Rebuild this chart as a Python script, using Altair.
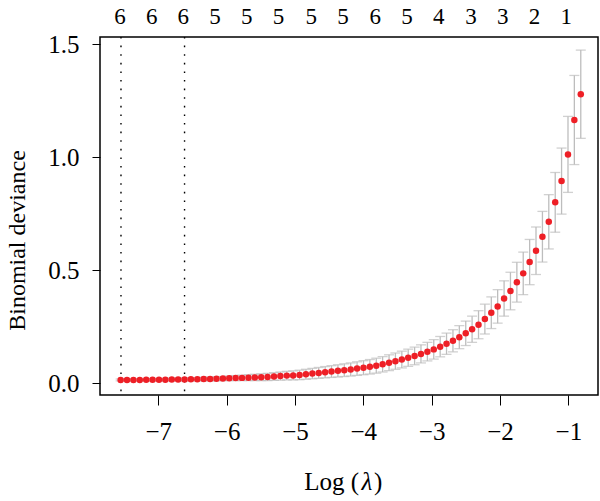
import altair as alt
import pandas as pd

# log(lambda) grid of the cross-validated fit
log_lambda = [
    -7.550, -7.457, -7.363, -7.270, -7.176, -7.083, -6.989, -6.896, -6.802, -6.709,
    -6.615, -6.522, -6.428, -6.335, -6.241, -6.148, -6.054, -5.961, -5.867, -5.774,
    -5.680, -5.587, -5.493, -5.400, -5.306, -5.213, -5.119, -5.026, -4.932, -4.839,
    -4.745, -4.652, -4.558, -4.465, -4.371, -4.278, -4.184, -4.091, -3.997, -3.904,
    -3.810, -3.717, -3.623, -3.530, -3.436, -3.343, -3.249, -3.156, -3.062, -2.969,
    -2.875, -2.782, -2.688, -2.595, -2.501, -2.408, -2.314, -2.221, -2.127, -2.034,
    -1.940, -1.847, -1.753, -1.660, -1.566, -1.473, -1.379, -1.286, -1.192, -1.099,
    -1.005, -0.912, -0.818,
]

# mean cross-validated binomial deviance
deviance = [
    0.015, 0.015, 0.015, 0.015, 0.016, 0.016, 0.016, 0.016, 0.017, 0.017,
    0.017, 0.018, 0.018, 0.019, 0.019, 0.020, 0.021, 0.022, 0.023, 0.024,
    0.025, 0.026, 0.027, 0.028, 0.030, 0.032, 0.034, 0.035, 0.037, 0.040,
    0.043, 0.046, 0.049, 0.052, 0.055, 0.058, 0.061, 0.065, 0.069, 0.073,
    0.078, 0.084, 0.091, 0.098, 0.105, 0.113, 0.121, 0.130, 0.140, 0.150,
    0.162, 0.175, 0.188, 0.204, 0.221, 0.239, 0.259, 0.284, 0.312, 0.340,
    0.375, 0.408, 0.447, 0.486, 0.536, 0.586, 0.648, 0.714, 0.800, 0.894,
    1.012, 1.164, 1.278,
]

# standard error of the deviance
deviance_se = [
    0.004, 0.004, 0.004, 0.004, 0.005, 0.005, 0.005, 0.005, 0.006, 0.006,
    0.006, 0.007, 0.007, 0.008, 0.008, 0.009, 0.009, 0.010, 0.011, 0.012,
    0.013, 0.014, 0.015, 0.016, 0.017, 0.018, 0.019, 0.020, 0.021, 0.022,
    0.023, 0.024, 0.025, 0.026, 0.027, 0.028, 0.029, 0.030, 0.031, 0.032,
    0.033, 0.034, 0.035, 0.036, 0.037, 0.038, 0.039, 0.040, 0.041, 0.043,
    0.045, 0.047, 0.049, 0.051, 0.054, 0.058, 0.062, 0.066, 0.070, 0.074,
    0.078, 0.083, 0.088, 0.094, 0.100, 0.105, 0.112, 0.120, 0.132, 0.146,
    0.168, 0.197, 0.195,
]

# number of nonzero coefficients, shown along the top
nz_at = [-7.56, -7.095, -6.635, -6.17, -5.705, -5.24, -4.76, -4.295,
         -3.825, -3.36, -2.895, -2.425, -1.96, -1.495, -1.03]
nz_count = ["6", "6", "6", "5", "5", "5", "5", "5", "6", "5", "4", "3", "3", "2", "1"]

# lambda.min and lambda.1se
ref_lines = [-7.545, -6.615]

x_ticks = [-7, -6, -5, -4, -3, -2, -1]
y_ticks = [0.0, 0.5, 1.0, 1.5]

FONT = "Liberation Serif"

df = pd.DataFrame({
    "log_lambda": log_lambda,
    "dev": deviance,
    "lo": [d - s for d, s in zip(deviance, deviance_se)],
    "hi": [d + s for d, s in zip(deviance, deviance_se)],
})
nz_df = pd.DataFrame({"x": nz_at, "label": nz_count})
ref_df = pd.DataFrame({"x": ref_lines})

x_scale = alt.Scale(domain=[-7.852, -0.566], nice=False, zero=False)
y_scale = alt.Scale(domain=[-0.0517, 1.531], nice=False, zero=False)

axis_style = dict(
    grid=False, domain=False, tickColor="black", tickWidth=1,
    labelFont=FONT, titleFont=FONT, labelFontSize=25, titleFontSize=24,
    labelColor="black", titleColor="black", titleFontWeight="normal",
    titleBaseline="middle",
)

x_enc = alt.X(
    "log_lambda:Q", scale=x_scale,
    axis=alt.Axis(values=x_ticks, format="d", title=None, tickSize=10,
                  labelPadding=14, **axis_style),
)
y_enc = alt.Y(
    "dev:Q", scale=y_scale,
    axis=alt.Axis(values=y_ticks, format=".1f", title="Binomial deviance", tickSize=8,
                  labelPadding=13, titleX=-83, titleY=203, **axis_style),
)

base = alt.Chart(df)
grey = "#bdbdbd"

bars = base.mark_rule(color=grey, strokeWidth=1.3).encode(
    x=x_enc, y=alt.Y("lo:Q", scale=y_scale), y2="hi:Q"
)
cap_hi = base.mark_tick(color=grey, thickness=1.3, size=10, orient="horizontal").encode(
    x=alt.X("log_lambda:Q", scale=x_scale), y=alt.Y("hi:Q", scale=y_scale)
)
cap_lo = base.mark_tick(color=grey, thickness=1.3, size=10, orient="horizontal").encode(
    x=alt.X("log_lambda:Q", scale=x_scale), y=alt.Y("lo:Q", scale=y_scale)
)
points = base.mark_circle(size=42, color="#ee1f26", opacity=1).encode(x=x_enc, y=y_enc)

vlines = alt.Chart(ref_df).mark_rule(color="black", strokeWidth=1.4, strokeDash=[1.6, 7]).encode(
    x=alt.X("x:Q", scale=x_scale)
)

top_labels = alt.Chart(nz_df).mark_text(
    font=FONT, fontSize=23, fontWeight="normal", baseline="middle", align="center",
    color="black"
).encode(x=alt.X("x:Q", scale=x_scale), y=alt.value(-20), text="label:N")

# x-axis title "Log (λ)" with an italic lambda
title_kw = dict(font=FONT, fontSize=25, fontWeight="normal", baseline="middle", color="black")
t_left = alt.Chart(nz_df).transform_filter("datum.x < -7.5").mark_text(
    text="Log (", align="right", **title_kw
).encode(x=alt.value(259), y=alt.value(445))
t_lam = alt.Chart(nz_df).transform_filter("datum.x < -7.5").mark_text(
    text="λ", align="center", fontStyle="italic", **title_kw
).encode(x=alt.value(267), y=alt.value(445))
t_right = alt.Chart(nz_df).transform_filter("datum.x < -7.5").mark_text(
    text=")", align="left", **title_kw
).encode(x=alt.value(274), y=alt.value(445))

chart = alt.layer(
    bars, cap_hi, cap_lo, vlines, points, top_labels, t_left, t_lam, t_right
).properties(
    width=498, height=358,
    padding={"left": 100, "top": 37, "right": 2, "bottom": 106},
    autosize=alt.AutoSizeParams(type="none"),
    background="white",
).configure_view(
    stroke="black", strokeWidth=1.5
)

chart.save("out.html", embed_options={"renderer": "svg", "actions": False})
